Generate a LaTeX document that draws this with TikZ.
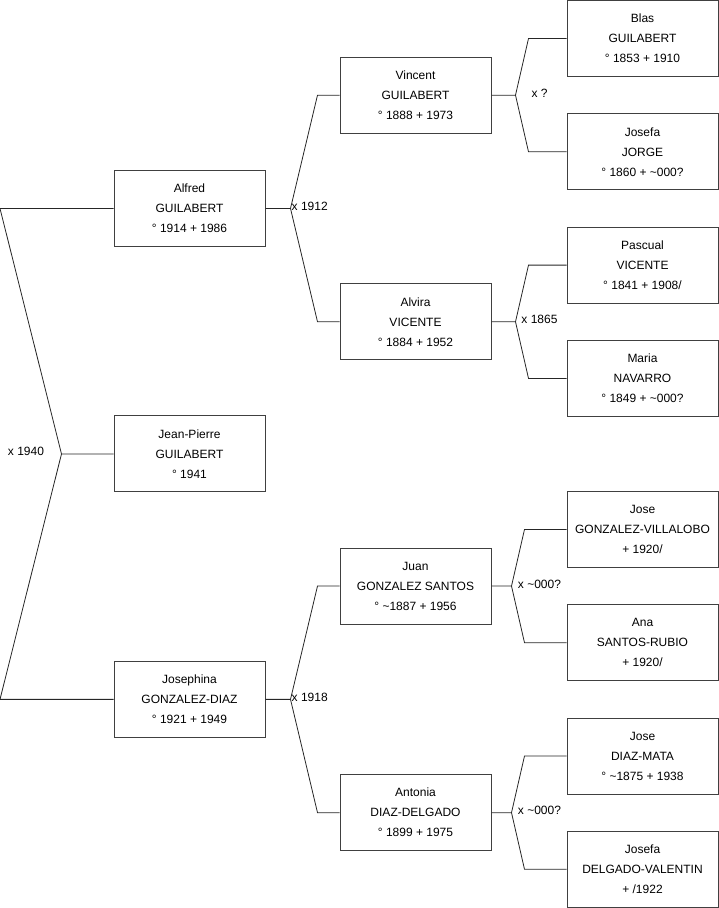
\documentclass[tikz,border=0pt]{standalone}
\usepackage{fontspec}
\setmainfont{Liberation Sans}
\usetikzlibrary{positioning,calc}

\begin{document}
\begin{tikzpicture}[
    x=1pt, y=-1pt,
    node distance=36.3pt,
    every node/.style={font=\fontsize{12}{20}\selectfont},
    person/.style={draw=black!75, line width=1pt, align=center, minimum width=151pt, minimum height=76pt, inner sep=0pt},
    link/.style={draw=black!85, line width=0.8pt},
    wed/.style={inner sep=1pt}
]
\useasboundingbox (0,0) rectangle (719,908);
% great-grandparents
\node[person] (blas) at (642.5,38.5) {Blas\\GUILABERT\\° 1853 + 1910};
\node[person, below=of blas] (jorge) {Josefa\\JORGE\\° 1860 + \textasciitilde000?};
\node[person, below=of jorge] (pascual) {Pascual\\VICENTE\\° 1841 + 1908/};
\node[person, below=of pascual] (maria) {Maria\\NAVARRO\\° 1849 + \textasciitilde000?};
\node[person, below=74pt of maria] (villalobo) {Jose\\GONZALEZ-VILLALOBO\\+ 1920/};
\node[person, below=of villalobo] (ana) {Ana\\SANTOS-RUBIO\\+ 1920/};
\node[person, below=of ana] (diazmata) {Jose\\DIAZ-MATA\\° \textasciitilde1875 + 1938};
\node[person, below=of diazmata] (valentin) {Josefa\\DELGADO-VALENTIN\\+ /1922};
% grandparents
\node[person] (vincent) at ($(blas)!.5!(jorge)+(-227,0)$) {Vincent\\GUILABERT\\° 1888 + 1973};
\node[person] (alvira) at ($(pascual)!.5!(maria)+(-227,0)$) {Alvira\\VICENTE\\° 1884 + 1952};
\node[person] (juan) at ($(villalobo)!.5!(ana)+(-227,0)$) {Juan\\GONZALEZ SANTOS\\° \textasciitilde1887 + 1956};
\node[person] (antonia) at ($(diazmata)!.5!(valentin)+(-227,0)$) {Antonia\\DIAZ-DELGADO\\° 1899 + 1975};
% parents and child
\node[person] (alfred) at ($(vincent)!.5!(alvira)+(-226,0)$) {Alfred\\GUILABERT\\° 1914 + 1986};
\node[person] (josephina) at ($(juan)!.5!(antonia)+(-226,0)$) {Josephina\\GONZALEZ-DIAZ\\° 1921 + 1949};
\node[person] (jeanpierre) at ($(alfred)!.5!(josephina)$) {Jean-Pierre\\GUILABERT\\° 1941};

% marriages, right column
\coordinate (fv) at ([xshift=24pt]vincent.east);
\draw[link] (vincent.east) -- (fv) -- ([xshift=-38pt]blas.west) -- (blas.west);
\draw[link] (fv) -- ([xshift=-38pt]jorge.west) -- (jorge.west);
\node[wed] (wv) at ([xshift=48pt,yshift=2pt]vincent.east) {x ?};

\coordinate (fa) at ([xshift=24pt]alvira.east);
\draw[link] (alvira.east) -- (fa) -- ([xshift=-38pt]pascual.west) -- (pascual.west);
\draw[link] (fa) -- ([xshift=-38pt]maria.west) -- (maria.west);
\node[wed] (wa) at ([xshift=48pt,yshift=2pt]alvira.east) {x 1865};

\coordinate (fj) at ([xshift=20pt]juan.east);
\draw[link] (juan.east) -- (fj) -- ([xshift=-42pt]villalobo.west) -- (villalobo.west);
\draw[link] (fj) -- ([xshift=-42pt]ana.west) -- (ana.west);
\node[wed] (wj) at ([xshift=48pt,yshift=2pt]juan.east) {x \textasciitilde000?};

\coordinate (fn) at ([xshift=20pt]antonia.east);
\draw[link] (antonia.east) -- (fn) -- ([xshift=-42pt]diazmata.west) -- (diazmata.west);
\draw[link] (fn) -- ([xshift=-42pt]valentin.west) -- (valentin.west);
\node[wed] (wn) at ([xshift=48pt,yshift=2pt]antonia.east) {x \textasciitilde000?};

% marriages, middle column
\coordinate (fal) at ([xshift=25pt]alfred.east);
\draw[link] (alfred.east) -- (fal) -- ([xshift=-22pt]vincent.west) -- (vincent.west);
\draw[link] (fal) -- ([xshift=-22pt]alvira.west) -- (alvira.west);
\node[wed, anchor=west] (wal) at ([yshift=2pt]fal) {x 1912};

\coordinate (fjo) at ([xshift=25pt]josephina.east);
\draw[link] (josephina.east) -- (fjo) -- ([xshift=-22pt]juan.west) -- (juan.west);
\draw[link] (fjo) -- ([xshift=-22pt]antonia.west) -- (antonia.west);
\node[wed, anchor=west] (wjo) at ([yshift=2pt]fjo) {x 1918};

% parents
\coordinate (fjp) at ([xshift=-52pt]jeanpierre.west);
\draw[link] (jeanpierre.west) -- (fjp) -- ([xshift=-113.5pt]alfred.west) -- (alfred.west);
\draw[link] (fjp) -- ([xshift=-113.5pt]josephina.west) -- (josephina.west);
\node[wed] (wjp) at ([xshift=-87.5pt,yshift=3pt]jeanpierre.west) {x 1940};
\end{tikzpicture}
\end{document}
